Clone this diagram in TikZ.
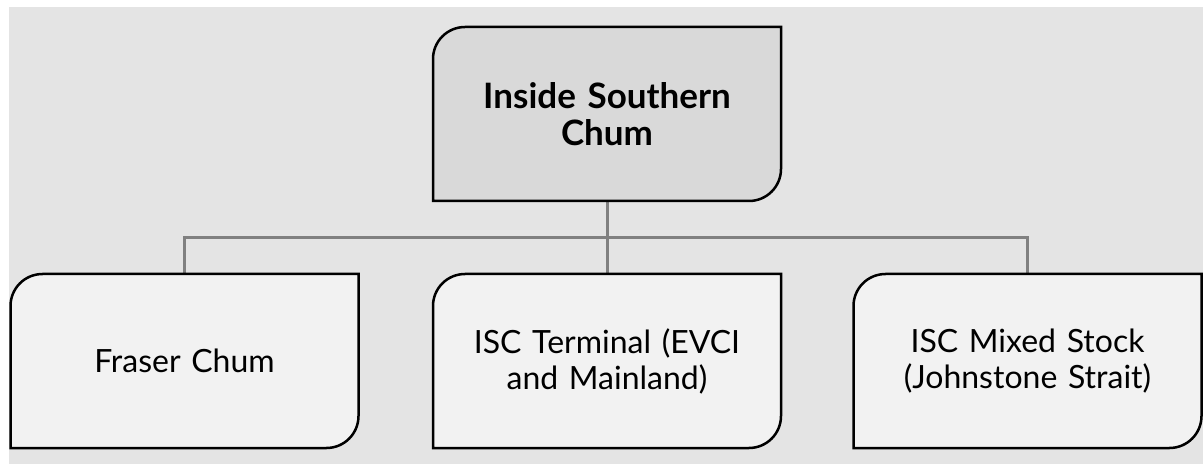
\documentclass[tikz,border=0pt]{standalone}
\usepackage{fontspec}
\setmainfont{Lato}
\usetikzlibrary{backgrounds}
\definecolor{panelgray}{HTML}{E4E4E4}
\definecolor{headgray}{HTML}{D9D9D9}
\definecolor{leafgray}{HTML}{F2F2F2}
\definecolor{linkgray}{HTML}{808080}
\tikzset{
  stock/.style={minimum width=348pt,minimum height=174pt,inner sep=0pt,outer sep=0pt,
    text width=330pt,align=center,font=\fontsize{32}{36}\selectfont},
  head/.style={stock,font=\fontsize{35}{37}\selectfont\bfseries},
  link/.style={draw=linkgray,line width=3pt},
  frame/.style={draw=black,line width=2.5pt},
}
% box outline: top left and bottom right corners rounded
\newcommand\chumframe[2]{%
  \filldraw[frame,fill=#2] (#1.south west) -- ([yshift=-32pt]#1.north west)
    arc[start angle=180,end angle=90,radius=32pt] -- (#1.north east)
    -- ([yshift=32pt]#1.south east) arc[start angle=0,end angle=-90,radius=32pt] -- cycle;}
\begin{document}
\begin{tikzpicture}[x=1pt,y=1pt]
	\useasboundingbox (0,0) rectangle (1203,464);
	\node[head] (isc) at (607,350) {Inside Southern\\Chum};
	\node[stock] (fraser) at (184.5,103) {Fraser Chum};
	\node[stock] (terminal) at (607,103) {ISC Terminal (EVCI\\and Mainland)};
	\node[stock] (mixed) at (1027.5,103) {ISC Mixed Stock\\(Johnstone Strait)};
	\coordinate (bus) at (607,226);
	\begin{scope}[on background layer]
		\fill[panelgray] (9,0) rectangle (1203,457);
		\draw[link] (isc.south) -- (bus);
		\draw[link] (fraser.north) |- (bus) -| (mixed.north);
		\draw[link] (terminal.north) -- (bus);
		\chumframe{isc}{headgray}
		\chumframe{fraser}{leafgray}
		\chumframe{terminal}{leafgray}
		\chumframe{mixed}{leafgray}
	\end{scope}
\end{tikzpicture}
\end{document}
